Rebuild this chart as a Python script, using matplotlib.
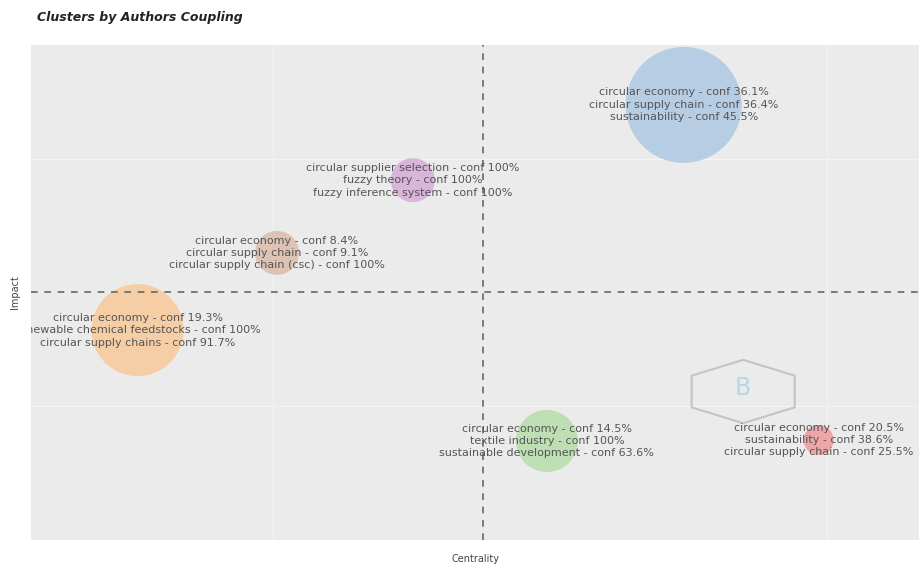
import matplotlib.pyplot as plt
from matplotlib.patches import Polygon

# cluster positions (centrality, impact) on a 0-1 scale, bubble frequency
centrality = [0.735, 0.430, 0.277, 0.120, 0.581, 0.887]
impact = [0.879, 0.727, 0.580, 0.424, 0.200, 0.202]
freq = [58, 22, 22, 46, 31, 15]
colors = ['#adc8e3', '#d6acd9', '#dbbcab', '#f8c999', '#b7dcaa', '#ee9a9c']
labels = [
    "circular economy - conf 36.1%\ncircular supply chain - conf 36.4%\nsustainability - conf 45.5%",
    "circular supplier selection - conf 100%\nfuzzy theory - conf 100%\nfuzzy inference system - conf 100%",
    "circular economy - conf 8.4%\ncircular supply chain - conf 9.1%\ncircular supply chain (csc) - conf 100%",
    "circular economy - conf 19.3%\nrenewable chemical feedstocks - conf 100%\ncircular supply chains - conf 91.7%",
    "circular economy - conf 14.5%\ntextile industry - conf 100%\nsustainable development - conf 63.6%",
    "circular economy - conf 20.5%\nsustainability - conf 38.6%\ncircular supply chain - conf 25.5%",
]
x_mid = 0.509
y_mid = 0.501

fig = plt.figure(figsize=(9.19, 5.64), dpi=100)
ax = fig.add_axes([31 / 919, 24 / 564, 888 / 919, 495 / 564])
ax.set_facecolor('#ebebeb')
ax.set_xlim(0, 1)
ax.set_ylim(0, 1)

# faint grid
for gx in [0.273, 0.896]:
    ax.axvline(gx, color='#f4f4f4', lw=0.8, zorder=0)
for gy in [0.27, 0.77]:
    ax.axhline(gy, color='#f4f4f4', lw=0.8, zorder=0)

# bubble size: freq is radius in pixels -> marker area in points^2
sizes = [(2 * r * 72 / 100) ** 2 for r in freq]
ax.scatter(centrality, impact, s=sizes, c=colors, alpha=0.85, edgecolors='none', zorder=2)

ax.axvline(x_mid, color='#666666', lw=1.2, ls=(0, (4, 4)), zorder=3)
ax.axhline(y_mid, color='#666666', lw=1.2, ls=(0, (4, 4)), zorder=3)

for x, y, lab in zip(centrality, impact, labels):
    ax.text(x, y, lab, ha='center', va='center', fontsize=8, color='#555555',
            linespacing=1.3, zorder=4, clip_on=True)

# watermark logo
hx, hy, hw, hh = 0.802, 0.30, 0.058, 0.064
ax.add_patch(Polygon([(hx, hy + hh), (hx + hw, hy + hh / 2), (hx + hw, hy - hh / 2),
                      (hx, hy - hh), (hx - hw, hy - hh / 2), (hx - hw, hy + hh / 2)],
                     closed=True, fill=False, ec='#c4c4c4', lw=1.5, zorder=1))
ax.text(hx, hy + 0.008, 'B', ha='center', va='center', fontsize=17, color='#9fd0e8',
        alpha=0.7, zorder=1)

for s in ax.spines.values():
    s.set_visible(False)
ax.set_xticks([])
ax.set_yticks([])
ax.set_xlabel('Centrality', fontsize=7, color='#444444', labelpad=10)
ax.set_ylabel('Impact', fontsize=7, color='#444444', labelpad=8)

fig.text(37 / 919, 1 - 17 / 564, 'Clusters by Authors Coupling', fontsize=9,
         fontweight='bold', fontstyle='italic', color='#222222', va='center')

fig.savefig('out.png', dpi=100)
